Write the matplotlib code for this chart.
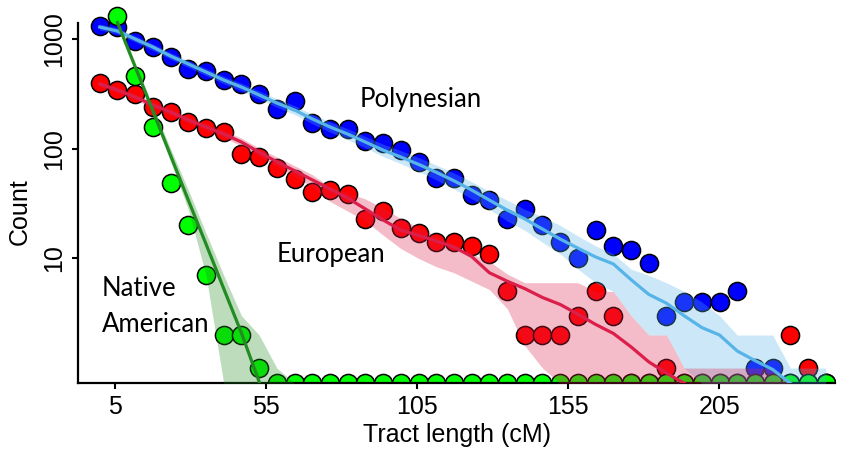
import numpy as np
import matplotlib
matplotlib.use("Agg")
import matplotlib.pyplot as plt
from matplotlib.ticker import NullLocator

plt.rcParams["font.family"] = ["Liberation Sans Narrow", "Liberation Sans", "DejaVu Sans"]

BIN_CM = 5.86          # tract-length bin width (cM)
FLOOR = 0.726          # bottom edge of the panel; zero counts are drawn there

# observed counts per bin
POLY_COUNT = [1313, 1278, 965, 845, 690, 533, 507, 423, 389, 313,
              232, 272, 173, 150, 150, 118, 113, 97, 76, 54,
              54, 38, 34, 23, 28, 20, 14, 10, 18, 13,
              12, 9, 3, 4, 4, 4, 5, 1, 1, 0,
              0, 0]
EURO_COUNT = [394, 343, 315, 240, 215, 176, 153, 143, 90, 84,
              67, 53, 40, 42, 39, 23, 27, 19, 17, 14,
              14, 13, 11, 5, 2, 2, 2, 3, 5, 3,
              0, 0, 1, 0, 0, 0, 0, 0, 0, 2,
              1, 0]
NATIVE_COUNT = [np.nan, 1620, 460, 158, 49, 20, 7, 2, 2, 1] + [0] * 32

# fitted expectation and its band
POLY_FIT = [1286, 1183, 1000, 845, 700, 592, 500, 423, 365, 309,
            261, 225, 187, 158, 136, 115, 97, 84, 72, 61,
            51, 42, 34, 27.6, 22.9, 18.5, 15, 12.4, 10.3, 8.9,
            6.4, 4.7, 3.9, 3.0, 2.34, 2.0, 1.43, 1.17, 0.97, 0]
POLY_LO = [1210, 1110, 940, 790, 655, 552, 465, 392, 337, 284,
           239, 205, 169, 142, 121, 102, 85, 73, 62, 52,
           43, 35, 28, 22, 18, 14, 11, 8, 6, 5,
           3, 2, 2, 1, 0, 0, 0, 0, 0, 0,
           0, 0]
POLY_HI = [1370, 1260, 1065, 900, 750, 635, 538, 456, 395, 336,
           285, 247, 206, 175, 152, 129, 110, 96, 83, 71,
           60, 50, 41, 34, 28, 24, 20, 16, 13, 11,
           8, 7, 6, 5, 4, 3, 2, 2, 2, 1,
           1, 1]

EURO_FIT = [389, 343, 296, 250, 216, 183, 158, 136, 115, 93,
            76, 63, 52, 43, 35.5, 28.2, 22.4, 18.1, 16.2, 14.4,
            12.7, 10.4, 7.4, 6.2, 5.3, 4.4, 3.8, 3.1, 2.5, 2.07,
            1.56, 1.14, 0.9, 0]
EURO_LO = [365, 322, 278, 234, 202, 171, 147, 126, 106, 85,
           69, 56, 45, 33, 27, 22, 16.3, 12.3, 10, 8.4,
           7.4, 6.2, 5.2, 3.5, 1.6, 1, 0, 0, 0, 0,
           0, 0, 0, 0, 0, 0, 0, 0, 0, 0]
EURO_HI = [413, 365, 315, 267, 231, 196, 170, 147, 125, 101,
           84, 70, 58, 45, 39.5, 34.8, 28.8, 23.1, 19.1, 16,
           13.3, 11, 9.4, 7.2, 6, 6, 6, 6, 5, 5,
           3, 2, 2, 1, 1, 1, 1, 1, 1, 0]

NATIVE_FIT = [np.nan, 1413, 558, 221, 86.7, 34, 13.5, 5.3, 2.09, 0.75]
NATIVE_LO = [np.nan, 1330, 520, 200, 76, 28, 7, 0, 0, 0, 0, 0]
NATIVE_HI = [np.nan, 1500, 600, 245, 100, 42, 17, 7, 3, 2, 1, 0]

XTICKS = [5, 55, 105, 155, 205]
YTICKS = [10, 100, 1000]

SERIES = [
    # name, counts, fit, lo, hi, point colour, line colour
    ("poly", POLY_COUNT, POLY_FIT, POLY_LO, POLY_HI, "#0000FF", "#56B4E9"),
    ("euro", EURO_COUNT, EURO_FIT, EURO_LO, EURO_HI, "#FF0000", "#DC1F4A"),
    ("native", NATIVE_COUNT, NATIVE_FIT, NATIVE_LO, NATIVE_HI, "#00FF00", "#228B22"),
]


def floored(v):
    """zeros go to the panel floor, like -Inf on a log axis in ggplot."""
    a = np.asarray(v, dtype=float)
    return np.where(a == 0, FLOOR, a)


def bins(v):
    return np.arange(len(v)) * BIN_CM


fig = plt.figure(figsize=(8.43, 4.49), dpi=100)
ax = fig.add_axes([0.0929, 0.1463, 0.8976, 0.8403])
ax.set_yscale("log")

for name, cnt, fit, lo, hi, pcol, lcol in SERIES:
    ax.scatter(bins(cnt), floored(cnt), s=170, color=pcol, edgecolor="black",
               linewidth=1.1, zorder=2)
for name, cnt, fit, lo, hi, pcol, lcol in SERIES:
    ax.fill_between(bins(lo), floored(lo), floored(hi), color=lcol, alpha=0.3,
                    linewidth=0, zorder=3)
    ax.plot(bins(fit), floored(fit), color=lcol, lw=2.3, zorder=4)

ax.set_xlim(-7.1, 243.3)
ax.set_ylim(FLOOR, 2000)
ax.set_xticks(XTICKS, labels=[str(t) for t in XTICKS])
ax.set_yticks(YTICKS, labels=[str(t) for t in YTICKS])
ax.yaxis.set_minor_locator(NullLocator())
plt.setp(ax.get_yticklabels(), rotation=90, va="center")
ax.tick_params(width=1.5, length=4.5, labelsize=18, pad=4)

for side in ("top", "right"):
    ax.spines[side].set_visible(False)
for side in ("left", "bottom"):
    ax.spines[side].set_linewidth(1.6)
ax.spines["left"].set_bounds(FLOOR, 1409)

ax.set_xlabel("Tract length (cM)", fontsize=18, labelpad=3)
ax.set_ylabel("Count", fontsize=18)
ax.yaxis.set_label_coords(-0.061, 0.454)

lab = dict(family=["Lato", "DejaVu Sans"], fontsize=18.5, va="baseline", zorder=5)
ax.text(86.1, 240, "Polynesian", **lab)
ax.text(58.6, 9.3, "European", **lab)
ax.text(0.6, 4.5, "Native", **lab)
ax.text(0.6, 2.15, "American", **lab)

fig.savefig("out.png", dpi=100)
